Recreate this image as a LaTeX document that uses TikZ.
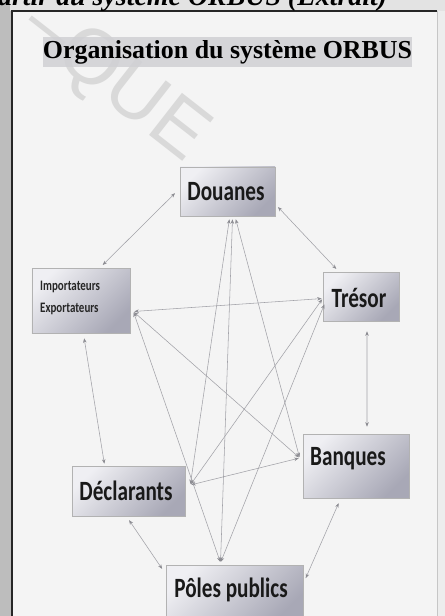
\documentclass[tikz,border=0pt]{standalone}
\usepackage{fontspec}
\setmainfont{Liberation Serif}
\newfontfamily\boxfont{Carlito}[FakeStretch=0.76]
\newfontfamily\wmfont{Liberation Sans}
\usetikzlibrary{arrows.meta}
\definecolor{boxL}{HTML}{EFEFF3}
\definecolor{boxR}{HTML}{A8A8B6}
\definecolor{frameBg}{HTML}{F4F4F4}
\definecolor{titleBg}{HTML}{D0D0D4}
\definecolor{edgeC}{HTML}{A2A2A8}
\definecolor{tipC}{HTML}{8C8C92}
\begin{document}
\begin{tikzpicture}[x=1bp,y=-1bp,
  box/.style={draw=gray!60, line width=0.6bp, top color=boxL, bottom color=boxR, shading angle=45, inner sep=0pt},
  lbl/.style={font=\boxfont\bfseries\fontsize{28}{30}\selectfont, text=black!90, inner sep=0pt},
  con/.style={draw=edgeC, line width=0.55bp, {Stealth[length=4.5bp,width=3.5bp,color=tipC]}-{Stealth[length=4.5bp,width=3.5bp,color=tipC]}, shorten <=1bp, shorten >=1bp}
]
\useasboundingbox (0,0) rectangle (445,616);
\clip (0,0) rectangle (445,616);
% background and frame
\fill[gray!52] (0,0) rectangle (445,616);
\fill[gray!22] (10,0) rectangle (445,11);
\fill[gray!14] (437,11) rectangle (445,616);
\fill[frameBg] (12,11) rectangle (437,616);
\draw[black!85, line width=1.8bp] (12,616) -- (12,11) -- (437,11);
\draw[gray!45, line width=0.8bp] (437,11) -- (437,616);
% cut-off heading above the frame
\node[anchor=base west, inner sep=0pt, font=\bfseries\itshape\fontsize{28}{30}\selectfont] (head) at (-16,6) {partir du système ORBUS (Extrait)};
% faint watermark
\node[anchor=base west, rotate=-38, text=gray!30, inner sep=0pt, font=\wmfont\fontsize{78}{78}\selectfont] (wm) at (18,33) {–QUE};
% title
\node[fill=titleBg, fill opacity=0.85, text opacity=1, minimum width=369bp, minimum height=30bp, inner sep=0pt, font=\bfseries\fontsize{26}{30}\selectfont] (ttl) at (227.5,52) {Organisation du système ORBUS};
% boxes
\node[box, minimum width=95bp, minimum height=49bp] (dou) at (227.5,191.5) {};
\node[lbl] (douT) at (226,192) {Douanes};
\node[box, minimum width=98bp, minimum height=65bp] (imp) at (81,300.5) {};
\node[anchor=west, align=left, inner sep=0pt, text=black!85, font=\boxfont\bfseries\fontsize{14.5}{22}\selectfont] (impT) at (40,298) {Importateurs\\Exportateurs};
\node[box, minimum width=76bp, minimum height=49bp] (tre) at (361,296.5) {};
\node[lbl] (treT) at (359,298) {Trésor};
\node[box, minimum width=106bp, minimum height=64bp] (ban) at (356,466) {};
\node[lbl] (banT) at (348,459) {Banques};
\node[box, minimum width=113bp, minimum height=50bp] (dec) at (128.5,491) {};
\node[lbl] (decT) at (126,491) {Déclarants};
\node[box, minimum width=137bp, minimum height=56bp] (pol) at (234.5,593) {};
\node[lbl] (polT) at (231,590) {Pôles publics};
% junction points
\coordinate (douB) at ([yshift=-2bp]dou.south);
\coordinate (impR) at ([xshift=3bp,yshift=-11bp]imp.east);
\coordinate (decR) at ([xshift=5bp,yshift=6bp]dec.east);
\coordinate (banL) at ([xshift=-3bp,yshift=8bp]ban.west);
\coordinate (treL) at ([yshift=-2bp]tre.west);
\coordinate (polN) at ([xshift=-14bp,yshift=2bp]pol.north);
% outer links
\draw[con] ([xshift=-4bp,yshift=-1bp]dou.west) -- ([xshift=21bp,yshift=2bp]imp.north);
\draw[con] ([xshift=2bp,yshift=10bp]dou.south east) -- ([xshift=-24bp,yshift=2bp]tre.north);
\draw[con] (impR) -- (treL);
\draw[con] ([xshift=6bp,yshift=-9bp]tre.south) -- ([xshift=11bp,yshift=6bp]ban.north);
\draw[con] ([xshift=3bp,yshift=-4bp]imp.south) -- ([xshift=-24bp,yshift=1bp]dec.north);
\draw[con] ([yshift=-3bp]dec.south) -- ([xshift=-3bp,yshift=-5bp]pol.north west);
\draw[con] ([xshift=-17bp,yshift=-4bp]ban.south) -- ([xshift=2bp,yshift=14bp]pol.east);
\draw[con] (decR) -- (banL);
% inner links
\draw[con] ([xshift=2bp]douB) -- (decR);
\draw[con] ([xshift=5bp]douB) -- (polN);
\draw[con] ([xshift=8bp]douB) -- (banL);
\draw[con] (impR) -- (banL);
\draw[con] (impR) -- (polN);
\draw[con] (decR) -- (treL);
\draw[con] (polN) -- ([xshift=2bp,yshift=-7bp]tre.west);
\end{tikzpicture}
\end{document}
